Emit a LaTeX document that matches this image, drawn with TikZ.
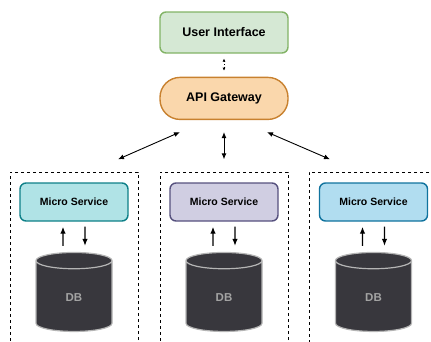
\documentclass[tikz,border=0pt]{standalone}
\usepackage{fontspec}
\setmainfont{Liberation Sans}
\usepackage{tikz}
\usetikzlibrary{
	shapes.geometric,
	positioning,
	arrows.meta
}
\definecolor{uifill}{HTML}{D5E8D4}
\definecolor{uiline}{HTML}{82B366}
\definecolor{gwfill}{HTML}{FAD7AC}
\definecolor{gwline}{HTML}{C8812F}
\definecolor{tealfill}{HTML}{B0E3E6}
\definecolor{tealline}{HTML}{0E8088}
\definecolor{lilacfill}{HTML}{D0CEE2}
\definecolor{lilacline}{HTML}{56517E}
\definecolor{bluefill}{HTML}{B1DDF0}
\definecolor{blueline}{HTML}{10739E}
\definecolor{dbfill}{HTML}{38373D}
\definecolor{dbline}{HTML}{B5B5B5}
\definecolor{dbtext}{HTML}{A3A3A3}
\tikzset{
	x=1pt, y=-1pt,
	box/.style={
		rectangle, rounded corners=6pt, line width=1.4pt,
		minimum width=128pt, minimum height=41pt,
		font=\bfseries\fontsize{12.5}{14}\selectfont
	},
	service/.style={
		box, minimum width=108pt, minimum height=38pt,
		font=\bfseries\fontsize{10.5}{12}\selectfont
	},
	group/.style={
		draw, dashed, dash pattern=on 3pt off 3pt, line width=0.8pt,
		minimum width=128pt, minimum height=178pt
	},
	db/.style={
		cylinder, shape border rotate=90, aspect=0.7,
		draw=dbline, fill=dbfill, line width=1.2pt,
		minimum width=76pt, minimum height=79pt,
		text=dbtext, font=\bfseries\fontsize{11.5}{13}\selectfont
	},
	link/.style={
		{Latex[length=6pt,width=5pt]}-{Latex[length=6pt,width=5pt]}, line width=0.9pt
	},
	flow/.style={
		-{Latex[length=7pt,width=5.5pt]}, line width=1.3pt
	}
}

\begin{document}
\begin{tikzpicture}
	\useasboundingbox (0,0) rectangle (431,341);
	\clip (0,0) rectangle (431,341);

	\node[box, draw=uiline, fill=uifill] (ui) at (224,32.5) {User Interface};
	\node[box, draw=gwline, fill=gwfill, rounded corners=20pt, minimum height=42pt,
		below=23pt of ui] (api) {API Gateway};

	% one dashed group per service, cut off at the bottom
	\node[group] (grp1) at (74,261) {};
	\node[group] (grp2) at (224,261) {};
	\node[group, minimum width=136pt] (grp3) at (377,261) {};

	\node[service, draw=tealline,  fill=tealfill]  (ms1) at (74,202)    {Micro Service};
	\node[service, draw=lilacline, fill=lilacfill] (ms2) at (224,202)   {Micro Service};
	\node[service, draw=blueline,  fill=bluefill]  (ms3) at (373.5,202) {Micro Service};

	\node[db] (db1) at (74,298)    {DB};
	\node[db] (db2) at (224,298)   {DB};
	\node[db] (db3) at (373.5,298) {DB};

	\draw[{Latex[length=3pt,width=3pt]}-{Latex[length=3pt,width=3pt]}, dotted, line width=0.6pt]
		([yshift=-5pt]ui.south) -- ([yshift=6pt]api.north);

	\draw[link] ([xshift=-44pt,yshift=-12pt]api.south) -- ([xshift=44pt,yshift=23pt]ms1.north);
	\draw[link] ([yshift=-12pt]api.south) -- ([yshift=23pt]ms2.north);
	\draw[link] ([xshift=43pt,yshift=-12pt]api.south) -- ([xshift=-43.5pt,yshift=23pt]ms3.north);

	\foreach \i in {1,2,3} {
		\draw[flow] ([xshift=-11pt,yshift=6pt]db\i.north) -- ([xshift=-11pt,yshift=-5pt]ms\i.south);
		\draw[flow] ([xshift=11pt,yshift=-5pt]ms\i.south) -- ([xshift=11pt,yshift=6pt]db\i.north);
	}
\end{tikzpicture}
\end{document}
